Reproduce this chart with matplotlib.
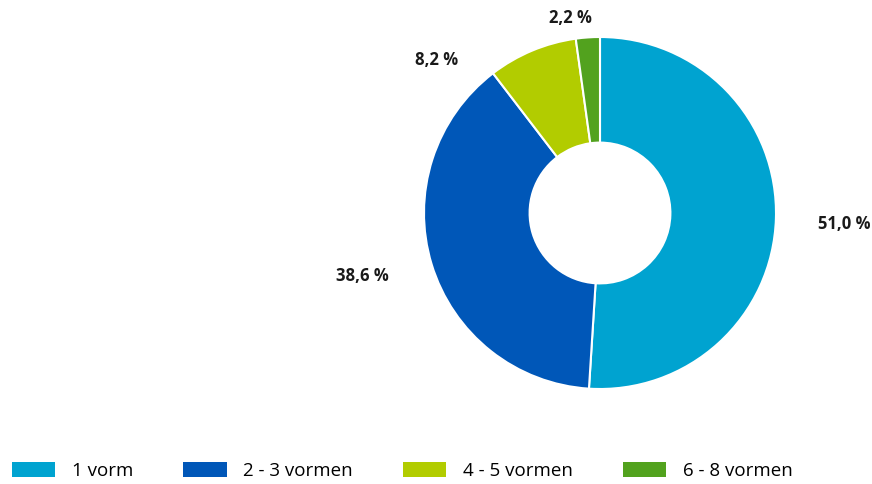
import matplotlib.pyplot as plt
from matplotlib.patches import Patch

# data
categories = ['1 vorm', '2 - 3 vormen', '4 - 5 vormen', '6 - 8 vormen']
shares = [51.0, 38.6, 8.2, 2.2]
colors = ['#00A3D0', '#0057B8', '#B2CC00', '#52A21E']

# label positions (pie data units), placed like the original
label_pos = [(1.39, -0.06), (-1.35, -0.36), (-0.93, 0.87), (-0.17, 1.11)]

fig = plt.figure(figsize=(8.72, 4.84), dpi=100)
ax = fig.add_axes([424 / 872, 95 / 484, 352 / 872, 352 / 484])

ax.pie(shares, colors=colors, startangle=90, counterclock=False, radius=1.0,
       wedgeprops=dict(width=0.6, edgecolor='white', linewidth=1.5))
ax.set_xlim(-1, 1)
ax.set_ylim(-1, 1)
ax.set_aspect('equal')
ax.axis('off')

for val, (x, y) in zip(shares, label_pos):
    txt = f'{val:.1f}'.replace('.', ',') + ' %'
    ax.text(x, y, txt, ha='center', va='center', fontsize=12,
            fontweight='bold', family='Open Sans', color='#1a1a1a',
            clip_on=False)

handles = [Patch(facecolor=c, edgecolor='none') for c in colors]
fig.legend(handles, categories, loc='center left', bbox_to_anchor=(12 / 872, 1 - 471 / 484),
           ncol=4, frameon=False, handlelength=2.3, handleheight=0.85,
           handletextpad=0.9, columnspacing=2.67, borderaxespad=0, borderpad=0,
           prop=dict(family='Open Sans', size=13.5))

fig.savefig('out.png', dpi=100)
